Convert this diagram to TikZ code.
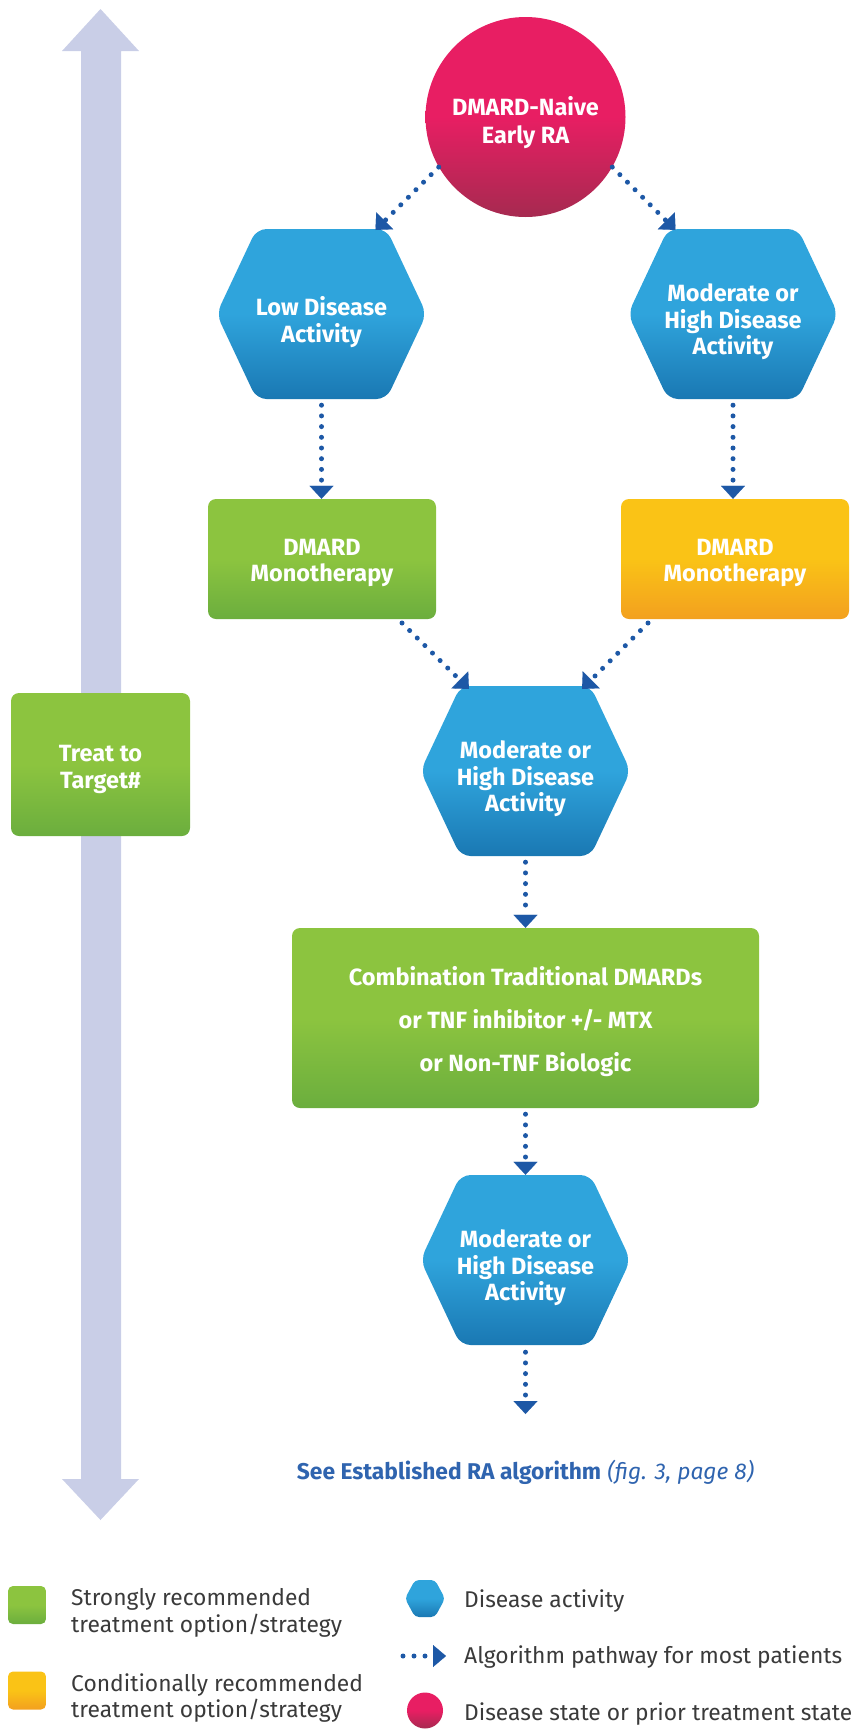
\documentclass[tikz,border=0pt]{standalone}
\usepackage{fontspec}
\setmainfont{Fira Sans}
\usetikzlibrary{arrows.meta,calc}

\definecolor{blueTop}{HTML}{2FA4DC}
\definecolor{blueBot}{HTML}{1A78B3}
\definecolor{greenTop}{HTML}{8CC43F}
\definecolor{greenBot}{HTML}{6BAE3E}
\definecolor{orangeTop}{HTML}{FAC316}
\definecolor{orangeBot}{HTML}{F3A01F}
\definecolor{pinkTop}{HTML}{E81E63}
\definecolor{pinkBot}{HTML}{A62A50}
\definecolor{lavender}{HTML}{C9CEE7}
\definecolor{pathBlue}{HTML}{1D58A6}
\definecolor{noteBlue}{HTML}{2F64AF}
\definecolor{legendGray}{HTML}{3A3A3A}

% hexagon: [shade options]{name}{centre}{half top edge}{half width}{half height}
\newcommand\hexnode[6][]{%
  \shade[hexfill,#1] ($(#3)+(-#4,-#6)$) -- ($(#3)+(#4,-#6)$) -- ($(#3)+(#5,0)$)
     -- ($(#3)+(#4,#6)$) -- ($(#3)+(-#4,#6)$) -- ($(#3)+(-#5,0)$) -- cycle;
  \node[hexcore, minimum width=2*#4, minimum height=2*#6] (#2) at (#3) {};
}

\begin{document}
\begin{tikzpicture}[x=1pt,y=-1pt,
  nodetext/.style={text=white, font=\bfseries\fontsize{23.5}{26.5}\selectfont, align=center, inner sep=0pt},
  hexcore/.style={rectangle, inner sep=0pt},
  hexfill/.style={rounded corners=10pt, top color=blueTop, bottom color=blueBot, middle color=blueTop},
  greenbox/.style={rectangle, rounded corners=8pt, inner sep=0pt, top color=greenTop, bottom color=greenBot, middle color=greenTop},
  orangebox/.style={rectangle, rounded corners=8pt, inner sep=0pt, top color=orangeTop, bottom color=orangeBot, middle color=orangeTop},
  pinkdisc/.style={circle, inner sep=0pt, top color=pinkTop, bottom color=pinkBot, middle color=pinkTop},
  flow/.style={draw=pathBlue, line width=5pt, line cap=round, dash pattern=on 0pt off 10.7pt,
    -{Triangle[width=24pt,length=13pt,line width=0.1pt]}},
  legtext/.style={anchor=base west, text=legendGray, font=\fontsize{22.8}{27}\selectfont, inner sep=0pt},
]
\useasboundingbox (0,0) rectangle (860,1729);

% treat-to-target double arrow
\fill[lavender] (100.5,9) -- (139,51) -- (121,51) -- (121,1479) -- (139,1479) -- (100.5,1520)
  -- (62,1479) -- (81,1479) -- (81,51) -- (62,51) -- cycle;
\node[greenbox, minimum width=179pt, minimum height=143pt] (ttt) at (100.5,764.5) {};
\node[nodetext] (tttlabel) at ($(ttt)+(0,5)$) {Treat to\\Target\#};

% start state
\node[pinkdisc, minimum size=200pt] (circ) at (525.5,117) {};
\node[nodetext, font=\bfseries\fontsize{23.5}{28}\selectfont] (circlabel) at ($(circ)+(0,6)$) {DMARD-Naive\\Early RA};

% disease activity states
\hexnode{h1}{321.5,314}{65}{105}{85}
\hexnode{h2}{733,314}{65}{105}{85}
\hexnode{h3}{525.5,771}{65}{105}{85}
\hexnode{h4}{525.5,1260}{65}{105}{85}
\node[nodetext] (h1label) at ($(h1)+(0,8)$) {Low Disease\\Activity};
\node[nodetext] (h2label) at ($(h2)+(0,8)$) {Moderate or\\High Disease\\Activity};
\node[nodetext] (h3label) at ($(h3)+(0,8)$) {Moderate or\\High Disease\\Activity};
\node[nodetext] (h4label) at ($(h4)+(0,8)$) {Moderate or\\High Disease\\Activity};

% treatments
\node[greenbox, minimum width=228pt, minimum height=120pt] (g1) at (322,559) {};
\node[nodetext] (g1label) at ($(g1)+(0,4)$) {DMARD\\Monotherapy};
\node[orangebox, minimum width=228pt, minimum height=120pt] (o1) at (735,559) {};
\node[nodetext] (o1label) at ($(o1)+(0,4)$) {DMARD\\Monotherapy};
\node[greenbox, minimum width=467pt, minimum height=180pt] (combo) at (525.5,1018) {};
\node[nodetext, font=\bfseries\fontsize{23.5}{43}\selectfont] (combolabel) at ($(combo)+(0,4)$)
  {Combination Traditional DMARDs\\or TNF inhibitor +/- MTX\\or Non-TNF Biologic};

% pathway ends
\coordinate (e1) at (375.5,230);
\coordinate (e2) at (675.5,230);
\coordinate (s5) at (402,623);
\coordinate (e5) at (469,689);
\coordinate (s6) at (648,623);
\coordinate (e6) at (582,689);
\coordinate (out) at (525.5,1414);

\draw[flow] (circ.210) -- (e1);
\draw[flow] (circ.330) -- (e2);
\draw[flow, shorten <=6pt] (h1.south) -- (h1.south |- g1.north);
\draw[flow, shorten <=6pt] (h2.south) -- (h2.south |- o1.north);
\draw[flow] (s5) -- (e5);
\draw[flow] (s6) -- (e6);
\draw[flow, shorten <=6pt] (h3.south) -- (h3.south |- combo.north);
\draw[flow, shorten <=6pt] (combo.south) -- (combo.south |- h4.north);
\draw[flow, shorten <=7pt] (h4.south) -- (out);

\node[text=noteBlue, font=\fontsize{22.8}{26}\selectfont, inner sep=0pt] (see) at (525.5,1472)
  {\textbf{See Established RA algorithm} \textit{(fig. 3, page 8)}};

% legend
\node[greenbox, minimum width=38pt, minimum height=38pt, rounded corners=5pt] (kg) at (27,1605) {};
\node[legtext] (kg1) at (71,1605) {Strongly recommended};
\node[legtext] (kg2) at (71,1632) {treatment option/strategy};
\node[orangebox, minimum width=38pt, minimum height=38pt, rounded corners=5pt] (ko) at (27,1690.5) {};
\node[legtext] (ko1) at (71,1691) {Conditionally recommended};
\node[legtext] (ko2) at (71,1717) {treatment option/strategy};

\hexnode[rounded corners=4pt]{kh}{425,1598.5}{10}{20}{18.5}
\node[legtext] (kh1) at (464,1607) {Disease activity};
\coordinate (kfrom) at (403,1656);
\coordinate (kto) at (446,1656);
\draw[flow, dash pattern=on 0pt off 11pt, -{Triangle[width=22pt,length=13pt,line width=0.1pt]}] (kfrom) -- (kto);
\node[legtext] (kf1) at (464,1663) {Algorithm pathway for most patients};
\node[pinkdisc, minimum size=36pt] (kp) at (425,1710.5) {};
\node[legtext] (kp1) at (464,1720) {Disease state or prior treatment state};
\end{tikzpicture}
\end{document}
